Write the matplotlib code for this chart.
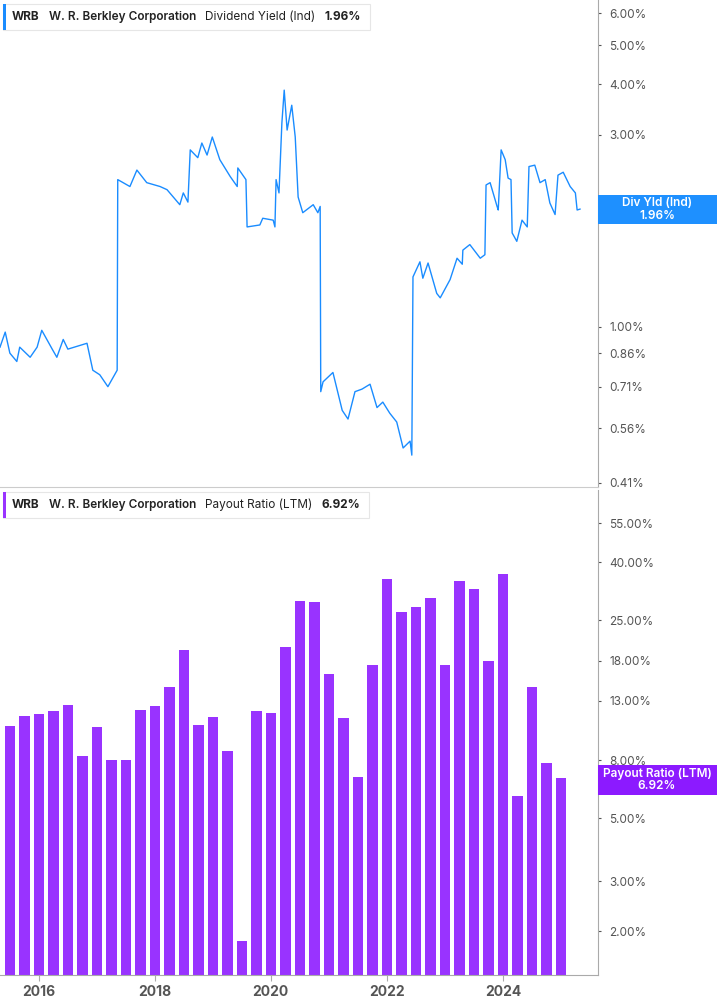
import numpy as np
import matplotlib.pyplot as plt
from matplotlib.ticker import FixedLocator, NullLocator

plt.rcParams['font.family'] = 'Inter'

# dividend yield (%), dates as decimal years
yield_dates = [2015.33, 2015.42, 2015.50, 2015.62, 2015.67, 2015.85, 2015.97, 2016.05,
               2016.23, 2016.31, 2016.42, 2016.50, 2016.83, 2016.93, 2017.05, 2017.19,
               2017.35, 2017.36, 2017.57, 2017.69, 2017.86, 2018.09, 2018.21, 2018.43,
               2018.49, 2018.57, 2018.61, 2018.74, 2018.81, 2018.90, 2018.99, 2019.12,
               2019.30, 2019.42, 2019.43, 2019.57, 2019.59, 2019.81, 2019.86, 2020.04,
               2020.07, 2020.09, 2020.14, 2020.19, 2020.23, 2020.28, 2020.36, 2020.42,
               2020.47, 2020.55, 2020.73, 2020.81, 2020.85, 2020.86, 2020.90, 2021.07,
               2021.23, 2021.33, 2021.45, 2021.57, 2021.71, 2021.83, 2021.93, 2022.05,
               2022.17, 2022.28, 2022.40, 2022.43, 2022.45, 2022.57, 2022.62, 2022.71,
               2022.86, 2022.92, 2023.09, 2023.21, 2023.30, 2023.31, 2023.43, 2023.61,
               2023.69, 2023.71, 2023.78, 2023.90, 2023.92, 2023.97, 2024.04, 2024.09,
               2024.14, 2024.16, 2024.24, 2024.33, 2024.42, 2024.45, 2024.55, 2024.64,
               2024.73, 2024.81, 2024.90, 2024.95, 2025.04, 2025.16, 2025.25, 2025.28,
               2025.33]
yield_vals = [0.89, 0.97, 0.86, 0.82, 0.89, 0.84, 0.89, 0.98,
              0.88, 0.84, 0.93, 0.88, 0.91, 0.78, 0.76, 0.71,
              0.78, 2.32, 2.23, 2.45, 2.28, 2.23, 2.19, 2.01,
              2.15, 2.04, 2.75, 2.63, 2.86, 2.67, 2.96, 2.60,
              2.36, 2.23, 2.48, 2.32, 1.77, 1.79, 1.86, 1.84,
              1.77, 2.32, 2.15, 3.21, 3.87, 3.08, 3.55, 2.96,
              2.10, 1.92, 2.01, 1.92, 1.99, 0.69, 0.73, 0.77,
              0.62, 0.59, 0.69, 0.70, 0.72, 0.63, 0.65, 0.61,
              0.58, 0.50, 0.52, 0.48, 1.33, 1.45, 1.32, 1.44,
              1.21, 1.18, 1.31, 1.48, 1.43, 1.55, 1.60, 1.48,
              1.51, 2.25, 2.28, 1.99, 1.95, 2.75, 2.60, 2.34,
              2.32, 1.71, 1.63, 1.84, 1.77, 2.50, 2.52, 2.28,
              2.32, 2.03, 1.90, 2.38, 2.42, 2.23, 2.15, 1.95,
              1.96]

# payout ratio LTM (%), quarterly from mid-2015
payout_start = 2015.5
payout_vals = [10.6, 11.5, 11.7, 11.9, 12.5, 8.3, 10.5, 8.0, 8.0, 12.0,
               12.4, 14.5, 19.6, 10.7, 11.4, 8.6, 1.84, 11.9, 11.8, 20.1,
               29.2, 29.0, 16.2, 11.3, 7.0, 17.4, 35.0, 26.7, 27.8, 29.9,
               17.4, 34.4, 32.1, 17.9, 36.5, 6.0, 14.5, 7.8, 6.92]

top_ticks = [0.41, 0.56, 0.71, 0.86, 1.00, 2.00, 3.00, 4.00, 5.00, 6.00]
bot_ticks = [2, 3, 5, 8, 13, 18, 25, 40, 55]
year_ticks = [2016, 2018, 2020, 2022, 2024]

blue = '#1a8cff'
purple = '#9933ff'
grey = '#555555'
W, H = 717, 1005

fig = plt.figure(figsize=(W / 100, H / 100), dpi=100)
ax1 = fig.add_axes([0, 1 - 487 / H, 598 / W, 487 / H])
ax2 = fig.add_axes([0, 1 - 975 / H, 598 / W, 485 / H])

ax1.plot(yield_dates, yield_vals, color=blue, lw=1.0)
payout_dates = payout_start + 0.25 * np.arange(len(payout_vals))
ax2.bar(payout_dates, payout_vals, width=0.18, color=purple, bottom=0.01)

for ax, ticks, lims in [(ax1, top_ticks, (0.40, 6.48)), (ax2, bot_ticks, (1.40, 72))]:
    ax.set_yscale('log')
    ax.set_ylim(*lims)
    ax.set_xlim(2015.33, 2025.64)
    ax.yaxis.tick_right()
    ax.yaxis.set_major_locator(FixedLocator(ticks))
    ax.yaxis.set_minor_locator(NullLocator())
    ax.set_yticklabels(['%.2f%%' % t for t in ticks])
    ax.tick_params(axis='y', length=2, width=0.8, color=grey, labelcolor=grey,
                   labelsize=8.5, pad=6)
    for s in ['top', 'left']:
        ax.spines[s].set_visible(False)
    ax.spines['right'].set_color('#aaaaaa')
    ax.spines['bottom'].set_color('#cccccc')
    ax.set_facecolor('none')

ax1.set_xticks([])
ax2.set_xticks(year_ticks)
ax2.set_xticklabels([str(y) for y in year_ticks])
ax2.xaxis.set_minor_locator(NullLocator())
ax2.tick_params(axis='x', length=4, color='#aaaaaa', labelcolor=grey, labelsize=10)
for lb in ax2.get_xticklabels():
    lb.set_fontweight('bold')
ax2.spines['bottom'].set_color('#aaaaaa')

renderer = fig.canvas.get_renderer()


def legend_box(y_top, color, name, val):
    ty = 1 - (y_top + 13) / H
    x = 12
    parts = [('WRB', 'bold'), ('W. R. Berkley Corporation', 'semibold'),
             (name, 'normal'), (val, 'bold')]
    for txt, wt in parts:
        t = fig.text(x / W, ty, txt, fontsize=8.5, fontweight=wt, color='#222222',
                     va='center', zorder=7)
        x += t.get_window_extent(renderer).width + 9
    w = x - 3
    fig.patches.append(plt.Rectangle((3 / W, 1 - (y_top + 26) / H), w / W, 26 / H,
                                     transform=fig.transFigure, facecolor='white',
                                     edgecolor='#e6e6e6', lw=0.8, zorder=5))
    fig.patches.append(plt.Rectangle((3 / W, 1 - (y_top + 26) / H), 3 / W, 26 / H,
                                     transform=fig.transFigure, facecolor=color,
                                     edgecolor='none', zorder=6))


def side_label(y_top, h, color, line1, val):
    fig.patches.append(plt.Rectangle((598 / W, 1 - (y_top + h) / H), 119 / W, h / H,
                                     transform=fig.transFigure, facecolor=color,
                                     edgecolor='none', zorder=5))
    fig.text(657 / W, 1 - (y_top + h / 2) / H, line1 + '\n' + val, ha='center', va='center',
             fontsize=8.5, fontweight='semibold', color='white', zorder=6, linespacing=1.1)


legend_box(4, blue, 'Dividend Yield (Ind)', '1.96%')
legend_box(492, purple, 'Payout Ratio (LTM)', '6.92%')
side_label(195, 29, '#1e90ff', 'Div Yld (Ind)', '1.96%')
side_label(765, 30, '#8c1aff', 'Payout Ratio (LTM)', '6.92%')

fig.savefig('out.png', dpi=100)
